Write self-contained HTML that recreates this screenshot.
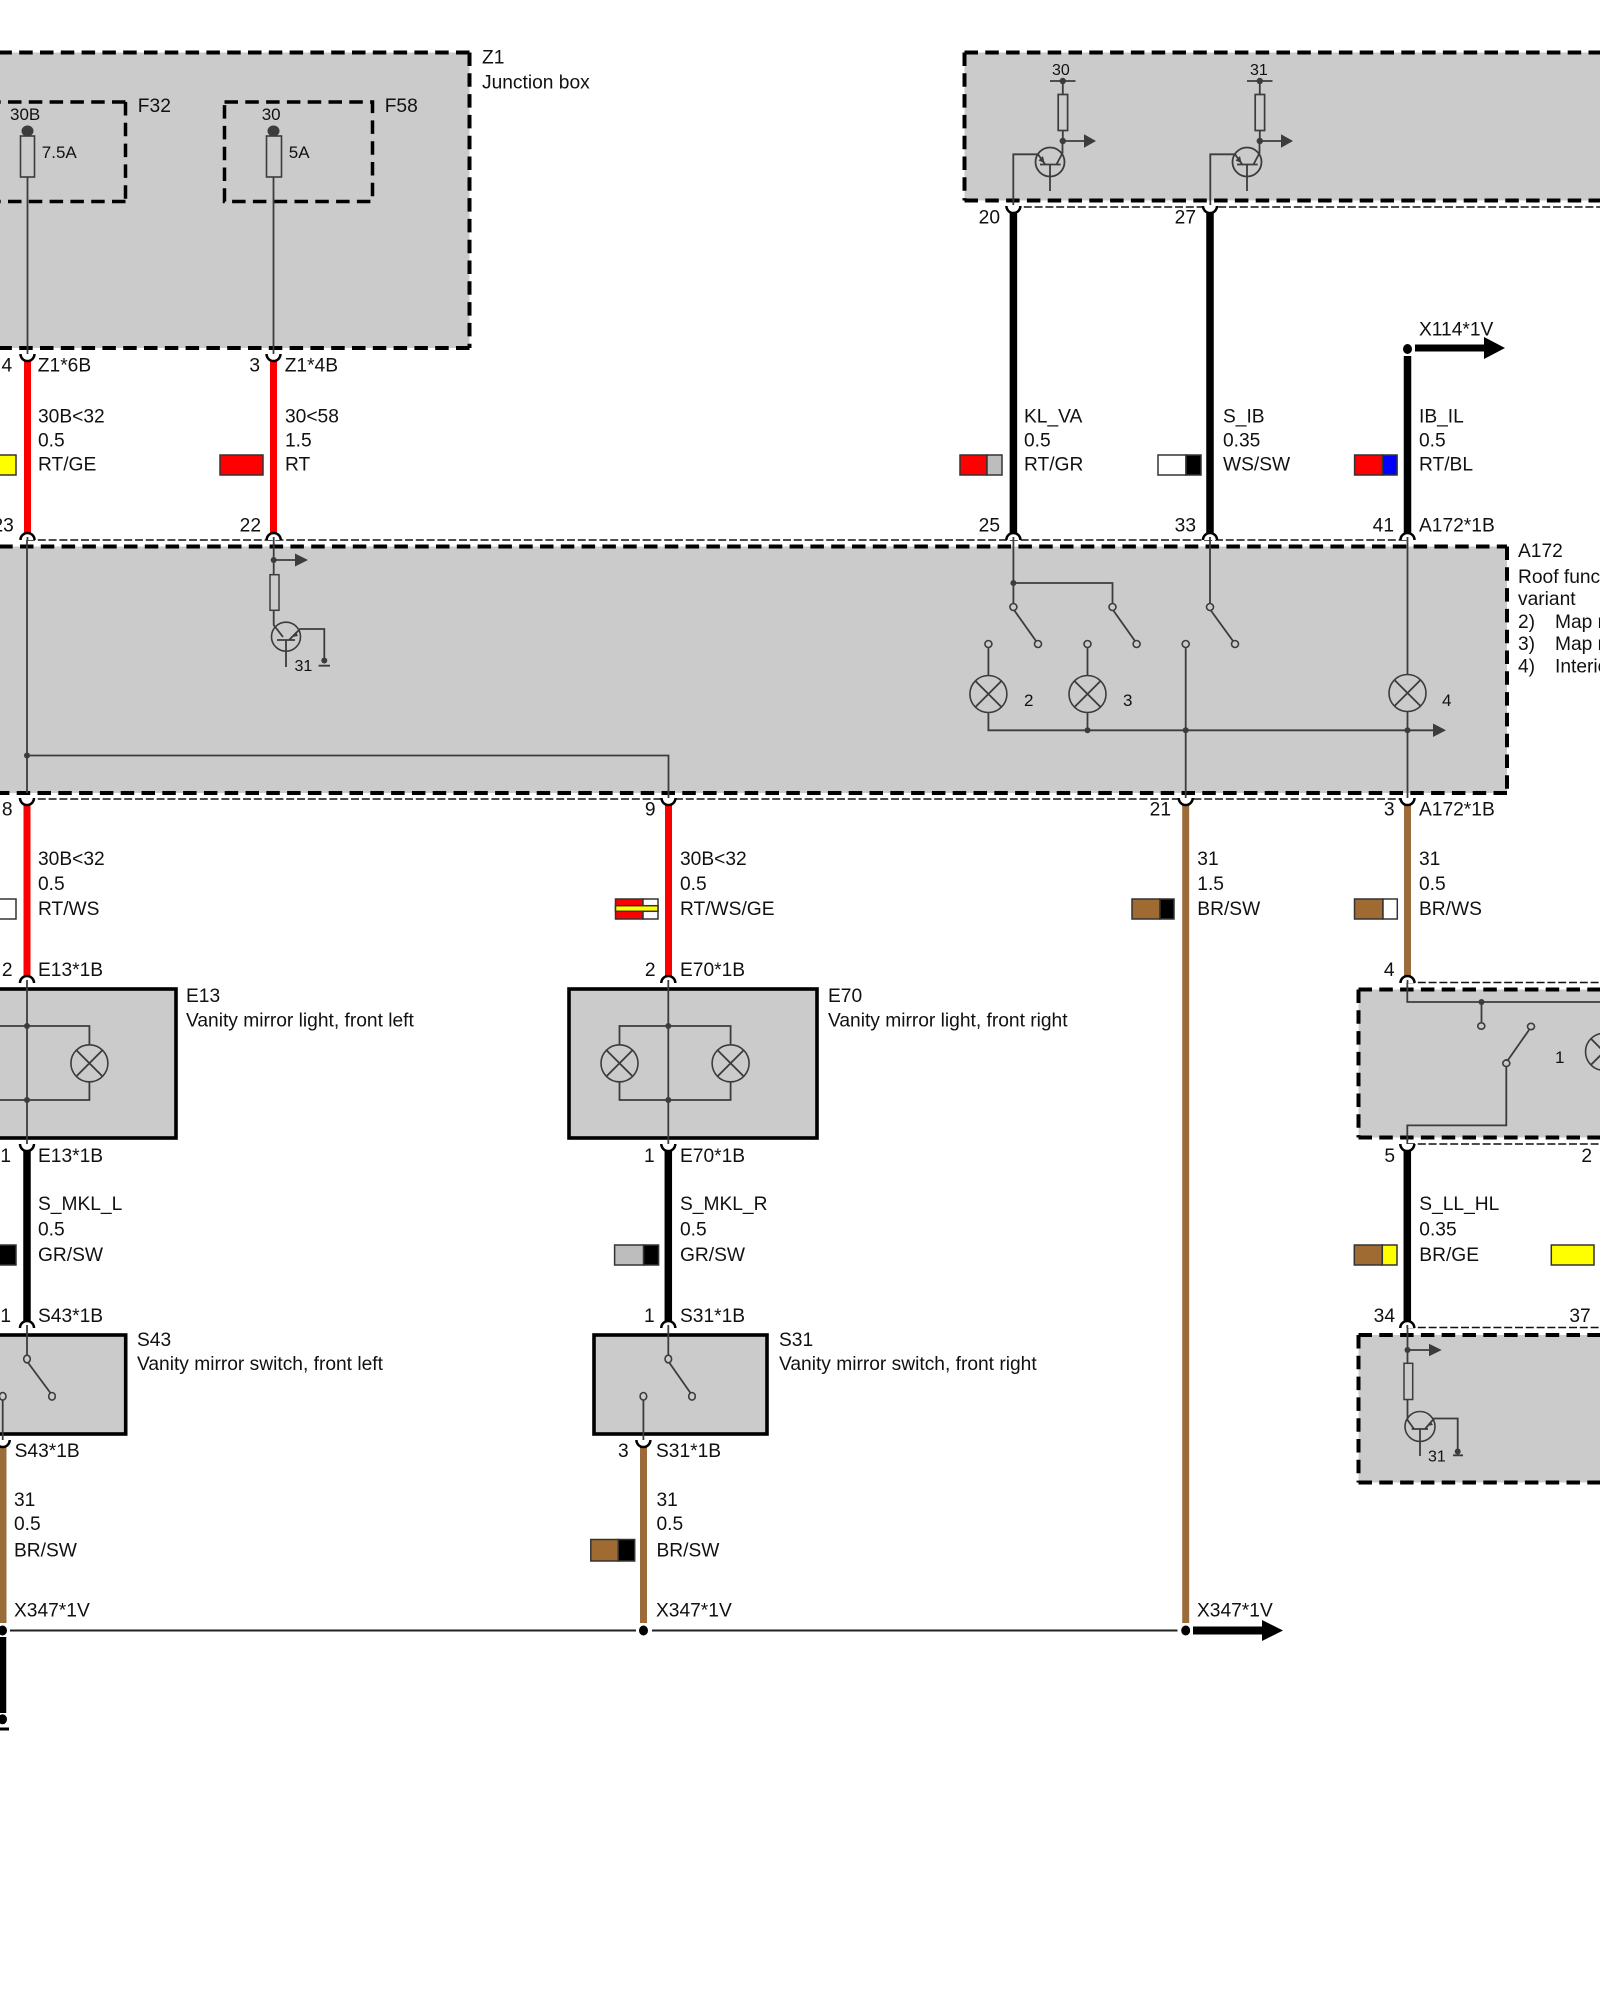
<!DOCTYPE html>
<html><head><meta charset="utf-8"><style>
html,body{margin:0;padding:0;background:#fff;width:1600px;height:2000px;overflow:hidden}
svg{display:block}
text{font-family:"Liberation Sans",sans-serif;font-size:19.2px;fill:#111}
.s{font-size:17px}.xs{font-size:16px}
.g{fill:#cbcbcb}
.box{fill:none;stroke:#000;stroke-width:4;stroke-dasharray:13.5 7.3}
.fb{fill:none;stroke:#000;stroke-width:3.5;stroke-dasharray:13.5 7.3}
.sb{fill:#cbcbcb;stroke:#000;stroke-width:3.6}
.td{fill:none;stroke:#111;stroke-width:1.6;stroke-dasharray:8 2.8}
.l{fill:none;stroke:#3c3c3c;stroke-width:1.8}
.sw{stroke:#333;stroke-width:1.5}
.c{fill:#cbcbcb;stroke:#3c3c3c;stroke-width:1.6}
</style></head><body>
<svg width="1600" height="2000" viewBox="0 0 1600 2000" xmlns="http://www.w3.org/2000/svg">
<defs>
<g id="cd"><path d="M-7 0A7 7 0 0 0 7 0Z" fill="#fff"/><path d="M-7 0A7 7 0 0 0 7 0" fill="none" stroke="#000" stroke-width="2.5"/></g>
<g id="cu"><path d="M-7 0A7 7 0 0 1 7 0Z" fill="#fff"/><path d="M-7 0A7 7 0 0 1 7 0" fill="none" stroke="#000" stroke-width="2.5"/><path d="M0 -3V0" stroke="#3c3c3c" stroke-width="1.8"/></g>
<g id="lamp"><circle r="18.5" class="c"/><path d="M-13 -13L13 13M-13 13L13 -13" class="l"/></g>
<g id="tr1">
<circle cx="1050" cy="162" r="14.5" fill="none" stroke="#3c3c3c" stroke-width="1.8"/>
<path d="M1062.5 141V153L1056.7 164M1040 164.5H1060.7M1050 164.5V191M1013.3 205V154.3H1038L1045 164" class="l"/>
<path d="M1044.5 163L1038.5 160.5L1043 156Z" fill="#3c3c3c"/>
<rect x="1058.2" y="94.5" width="9.4" height="36" fill="#cbcbcb" stroke="#3c3c3c" stroke-width="1.7"/>
<path d="M1062.8 81V94.5M1062.8 130.5V141M1050 81H1075.5M1062.8 141H1084.5" class="l"/>
<circle cx="1062.8" cy="81" r="3.2" fill="#3c3c3c"/><circle cx="1062.8" cy="141" r="3.2" fill="#3c3c3c"/>
<path d="M1084 134.3L1096 141L1084 147.7Z" fill="#3c3c3c"/>
</g>
</defs>

<!-- boxes -->
<rect x="0" y="52.5" width="469.5" height="295.5" class="g"/>
<path d="M469.5 52.5H-10M469.5 52.5V348M469.5 348H-10" class="box"/>
<path d="M125.5 102H-10M125.5 102V201.5M125.5 201.5H-10" class="fb"/>
<path d="M224.5 102H372.5V201.5H224.5Z" class="fb"/>
<rect x="964.5" y="52.5" width="640" height="148" class="g"/>
<path d="M964.5 52.5H1610M964.5 52.5V200.5M964.5 200.5H1610" class="box"/>
<rect x="0" y="546.5" width="1507" height="246.5" class="g"/>
<path d="M-21.6 546.5H1507M1507 546.5V793M1507 793H-10" class="box"/>
<rect x="1358.5" y="989.5" width="250" height="148" class="g"/>
<path d="M1358.5 989.5H1610M1358.5 989.5V1137.5M1358.5 1137.5H1610" class="box"/>
<rect x="1358.5" y="1335" width="250" height="147.5" class="g"/>
<path d="M1358.5 1335H1610M1358.5 1335V1482.5M1358.5 1482.5H1610" class="box"/>
<rect x="-20" y="989" width="196" height="149" class="sb"/>
<rect x="569" y="989" width="248" height="149" class="sb"/>
<rect x="-20" y="1335" width="145.7" height="99" class="sb"/>
<rect x="594" y="1335" width="173" height="99" class="sb"/>

<!-- thin dashed lines -->
<path d="M27 540H1407M27 799H1407M1013 207H1600M1407 982.5H1600M1407 1144H1600M1407 1327.5H1600" class="td"/>

<!-- Z1 internals -->
<path d="M27.5 131V354M273.5 131V354" class="l"/>
<rect x="20.5" y="136" width="14" height="41" fill="#cbcbcb" stroke="#3c3c3c" stroke-width="1.6"/>
<rect x="266.5" y="136" width="15" height="41" fill="#cbcbcb" stroke="#3c3c3c" stroke-width="1.6"/>
<ellipse cx="27.5" cy="131" rx="6" ry="5.5" fill="#3c3c3c"/><ellipse cx="273.5" cy="131" rx="6" ry="5.5" fill="#3c3c3c"/>

<!-- top-right transistors -->
<use href="#tr1"/>
<use href="#tr1" x="197"/>

<!-- A172 internals -->
<path d="M27 540V793M27 755.5H668.5V799" class="l"/>
<path d="M273.7 540V574.7M273.7 610V625L283 637M273.7 560H296" class="l"/>
<circle cx="273.7" cy="560" r="3" fill="#3c3c3c"/><path d="M295 553.5L308 560L295 566.5Z" fill="#3c3c3c"/>
<rect x="270" y="574.7" width="9" height="35.6" fill="#cbcbcb" stroke="#3c3c3c" stroke-width="1.5"/>
<circle cx="286" cy="636.7" r="14.5" fill="none" stroke="#3c3c3c" stroke-width="1.6"/>
<path d="M277 640H295M286 640V667M289 640L300 629H324.3V661M318.6 665.7H330" class="l"/>
<path d="M296 632L292 637L298 636Z" fill="#3c3c3c"/>
<circle cx="324.3" cy="660.5" r="3" fill="#3c3c3c"/>

<path d="M1013.4 540V603M1013.4 583H1112.5V603M1014 610L1036 641M1113 610L1135 641" class="l"/>
<path d="M1210 540V603M1210.5 610L1233 641" class="l"/>
<path d="M988.4 648V675.5M988.4 712.5V730.3H1434M1087.5 648V675.5M1087.5 712.5V730.3M1185.7 648V799M1407.5 540V674.5M1407.5 711.5V799" class="l"/>
<path d="M1433 723.5L1446 730.3L1433 737Z" fill="#3c3c3c"/>
<g fill="#3c3c3c"><circle cx="1013.4" cy="583" r="3"/><circle cx="1087.5" cy="730.3" r="3"/><circle cx="1185.7" cy="730.3" r="3"/><circle cx="1407.5" cy="730.3" r="3"/><circle cx="27" cy="755.5" r="3"/></g>
<g class="c">
<ellipse cx="1013.4" cy="607" rx="3.5" ry="3.5"/><ellipse cx="1112.5" cy="607" rx="3.5" ry="3.5"/><ellipse cx="1210" cy="607" rx="3.5" ry="3.5"/>
<ellipse cx="1038" cy="644" rx="3.5" ry="3.5"/><ellipse cx="1136.6" cy="644" rx="3.5" ry="3.5"/><ellipse cx="1235" cy="644" rx="3.5" ry="3.5"/>
<ellipse cx="988.4" cy="644" rx="3.5" ry="3.5"/><ellipse cx="1087.5" cy="644" rx="3.5" ry="3.5"/><ellipse cx="1185.7" cy="644" rx="3.5" ry="3.5"/>
</g>
<use href="#lamp" x="988.4" y="694"/><use href="#lamp" x="1087.5" y="694"/><use href="#lamp" x="1407.5" y="693"/>

<!-- E13 / E70 internals -->
<path d="M27 983V1144M0 1026H89.4V1045M89.4 1082V1100H0" class="l"/>
<path d="M668.3 983V1144M619.5 1045V1026H730.6V1045M619.5 1082V1100H730.6V1082" class="l"/>
<use href="#lamp" x="89.4" y="1063.3"/><use href="#lamp" x="619.5" y="1063.3"/><use href="#lamp" x="730.6" y="1063.3"/>
<g fill="#3c3c3c"><circle cx="27" cy="1026" r="3"/><circle cx="27" cy="1100" r="3"/><circle cx="668.3" cy="1026" r="3"/><circle cx="668.3" cy="1100" r="3"/></g>

<!-- S43 / S31 internals -->
<path d="M27 1328V1355M27.5 1362L50.5 1393M2.7 1400V1440" class="l"/>
<path d="M668.3 1328V1355M668.8 1362L690.5 1393M643.4 1400V1440" class="l"/>
<g class="c"><ellipse cx="27" cy="1359" rx="3.3" ry="3.8"/><ellipse cx="52" cy="1396.3" rx="3.3" ry="3.8"/><ellipse cx="2.7" cy="1396.3" rx="3.3" ry="3.8"/>
<ellipse cx="668.3" cy="1359" rx="3.3" ry="3.8"/><ellipse cx="692" cy="1396.3" rx="3.3" ry="3.8"/><ellipse cx="643.4" cy="1396.3" rx="3.3" ry="3.8"/></g>

<!-- right boxes internals -->
<path d="M1407.3 983V1002H1604V1033M1481.5 1002V1022M1506.3 1059V1125.4H1407.3V1144M1508 1060L1529 1030" class="l"/>
<circle cx="1481.5" cy="1002" r="3" fill="#3c3c3c"/>
<g class="c"><ellipse cx="1481.3" cy="1026" rx="3.5" ry="3.2"/><ellipse cx="1506.3" cy="1063.3" rx="3.5" ry="3.2"/><ellipse cx="1531" cy="1026.5" rx="3.5" ry="3.2"/></g>
<use href="#lamp" x="1604" y="1051.8"/>

<path d="M1407.5 1328V1363M1407.5 1399.5V1420L1414 1429M1407.5 1350H1430" class="l"/>
<circle cx="1407.5" cy="1350" r="3" fill="#3c3c3c"/><path d="M1429 1343.7L1441.7 1350L1429 1356.3Z" fill="#3c3c3c"/>
<rect x="1404" y="1363.3" width="8.7" height="36.2" fill="#cbcbcb" stroke="#3c3c3c" stroke-width="1.5"/>
<circle cx="1420" cy="1426.5" r="15" fill="none" stroke="#3c3c3c" stroke-width="1.6"/>
<path d="M1411.7 1429H1428M1420 1429V1456M1425 1429L1434 1418.5H1457.7V1451M1453 1455.3H1463" class="l"/>
<path d="M1431 1422L1427 1426L1433 1425Z" fill="#3c3c3c"/>
<circle cx="1457.7" cy="1451.5" r="3" fill="#3c3c3c"/>

<!-- thick wires -->
<g stroke-width="7" fill="none">
<path d="M27.5 357V536M273.5 357V536M27 801V978M668.5 801V978" stroke="#fa0000"/>
<path d="M1185.7 801V1623M1407.5 801V978M3 1443V1623M643.5 1443V1623" stroke="#9c6b3a"/>
</g>
<g stroke-width="7.5" fill="none" stroke="#000">
<path d="M1013.4 209V536M1210 209V536M1407.5 356V536M27 1147V1323M668.3 1147V1323M1407.3 1147V1323M2.5 1637V1713"/>
</g>

<!-- connector cups -->
<use href="#cd" x="27.5" y="354"/><use href="#cd" x="273.5" y="354"/>
<use href="#cd" x="1013.4" y="206"/><use href="#cd" x="1210" y="206"/>
<use href="#cu" x="27.5" y="540"/><use href="#cu" x="273.7" y="540"/><use href="#cu" x="1013.4" y="540"/><use href="#cu" x="1210" y="540"/><use href="#cu" x="1407.5" y="540"/>
<use href="#cd" x="27" y="798"/><use href="#cd" x="668.5" y="798"/><use href="#cd" x="1185.7" y="798"/><use href="#cd" x="1407.5" y="798"/>
<use href="#cu" x="27" y="983"/><use href="#cu" x="668.3" y="983"/><use href="#cu" x="1407.5" y="983"/>
<use href="#cd" x="27" y="1144"/><use href="#cd" x="668.3" y="1144"/><use href="#cd" x="1407.3" y="1144"/>
<use href="#cu" x="27" y="1328"/><use href="#cu" x="668.3" y="1328"/><use href="#cu" x="1407.3" y="1328"/>
<use href="#cd" x="2.7" y="1440"/><use href="#cd" x="643.4" y="1440"/>

<!-- bottom bus and arrows -->
<path d="M10 1630.5H636M652 1630.5H1177.5" stroke="#222" stroke-width="2" fill="none"/>
<path d="M1193 1630.5H1264" stroke="#000" stroke-width="8"/><path d="M1262 1620L1283 1630.5L1262 1641Z" fill="#000"/>
<path d="M1415 348H1486" stroke="#000" stroke-width="7"/><path d="M1484 337L1505 348L1484 359Z" fill="#000"/>
<g fill="#000"><ellipse cx="1407.5" cy="349" rx="4.5" ry="5"/><ellipse cx="2.5" cy="1630.5" rx="4.5" ry="5"/><ellipse cx="643.5" cy="1630.5" rx="4.5" ry="5"/><ellipse cx="1185.7" cy="1630.5" rx="4.5" ry="5"/><ellipse cx="2.5" cy="1719.3" rx="4.5" ry="5"/></g>
<rect x="0" y="1727.5" width="9" height="3" fill="#000"/>

<!-- swatches -->
<rect x="-3" y="455" width="19" height="20" fill="#ffff00" class="sw"/>
<rect x="220" y="455" width="43" height="20" fill="#ff0000" class="sw"/>
<g class="sw">
<rect x="960" y="455" width="27" height="20" fill="#ff0000"/><rect x="987" y="455" width="15" height="20" fill="#bdbdbd"/>
<rect x="1158" y="455" width="28" height="20" fill="#fff"/><rect x="1186" y="455" width="15" height="20" fill="#000"/>
<rect x="1354.6" y="455" width="28" height="20" fill="#ff0000"/><rect x="1382.6" y="455" width="14.5" height="20" fill="#0000ff"/>
<rect x="-3" y="899" width="19" height="20" fill="#fff"/>
<rect x="615.5" y="899" width="27.5" height="20" fill="#ff0000"/><rect x="643" y="899" width="15" height="20" fill="#fff"/>
<rect x="615.5" y="905.7" width="42.5" height="5.6" fill="#ffff00"/>
<rect x="1132" y="899" width="28" height="20" fill="#a06a33"/><rect x="1160" y="899" width="14" height="20" fill="#000"/>
<rect x="1354.5" y="899" width="28.5" height="20" fill="#a06a33"/><rect x="1383" y="899" width="14.3" height="20" fill="#fff"/>
<rect x="-3" y="1245" width="19" height="20" fill="#000"/>
<rect x="614.6" y="1245" width="29" height="20" fill="#bdbdbd"/><rect x="643.6" y="1245" width="15" height="20" fill="#000"/>
<rect x="1354.3" y="1245" width="28" height="20" fill="#a06a33"/><rect x="1382.3" y="1245" width="14.7" height="20" fill="#ffff00"/>
<rect x="1551.3" y="1245" width="42.7" height="20" fill="#ffff00"/>
<rect x="590.8" y="1539.5" width="27.5" height="21.5" fill="#a06a33"/><rect x="618.3" y="1539.5" width="16.4" height="21.5" fill="#000"/>
</g>

<!-- labels -->
<text x="482" y="63.5">Z1</text><text x="482" y="88.5">Junction box</text>
<text x="137.8" y="112">F32</text><text x="384.7" y="112">F58</text>
<text class="s" x="10" y="120">30B</text><text class="s" x="261.7" y="120">30</text>
<text class="s" x="41.8" y="158">7.5A</text><text class="s" x="288.8" y="158">5A</text>
<text class="xs" x="1052" y="75">30</text><text class="xs" x="1250" y="75">31</text>
<text x="12.2" y="371.5" text-anchor="end">4</text><text x="37.8" y="371.5">Z1*6B</text>
<text x="260" y="371.5" text-anchor="end">3</text><text x="284.7" y="371.5">Z1*4B</text>
<text x="38" y="422.5">30B&lt;32</text><text x="38" y="446.5">0.5</text><text x="38" y="470.5">RT/GE</text>
<text x="285" y="422.5">30&lt;58</text><text x="285" y="446.5">1.5</text><text x="285" y="470.5">RT</text>
<text x="13.8" y="531.5" text-anchor="end">23</text><text x="261" y="531.5" text-anchor="end">22</text>
<text x="1000" y="223.5" text-anchor="end">20</text><text x="1196" y="223.5" text-anchor="end">27</text>
<text x="1419" y="335.5">X114*1V</text>
<text x="1024" y="422.5">KL_VA</text><text x="1024" y="446.5">0.5</text><text x="1024" y="470.5">RT/GR</text>
<text x="1223" y="422.5">S_IB</text><text x="1223" y="446.5">0.35</text><text x="1223" y="470.5">WS/SW</text>
<text x="1419" y="422.5">IB_IL</text><text x="1419" y="446.5">0.5</text><text x="1419" y="470.5">RT/BL</text>
<text x="1000" y="531.5" text-anchor="end">25</text><text x="1196" y="531.5" text-anchor="end">33</text><text x="1394" y="531.5" text-anchor="end">41</text><text x="1419" y="531.5">A172*1B</text>
<text x="1518" y="557">A172</text><text x="1518" y="583">Roof function center,</text><text x="1518" y="605">variant</text>
<text x="1518" y="628">2)</text><text x="1555" y="628">Map reading light</text>
<text x="1518" y="650">3)</text><text x="1555" y="650">Map reading light</text>
<text x="1518" y="672.5">4)</text><text x="1555" y="672.5">Interior light</text>
<text class="xs" x="294.5" y="671">31</text>
<text class="s" x="1024" y="706">2</text><text class="s" x="1123" y="706">3</text><text class="s" x="1442" y="706">4</text>
<text x="12.6" y="815.5" text-anchor="end">8</text><text x="655.6" y="815.5" text-anchor="end">9</text><text x="1171" y="815.5" text-anchor="end">21</text><text x="1394.6" y="815.5" text-anchor="end">3</text><text x="1419" y="815.5">A172*1B</text>
<text x="38" y="865">30B&lt;32</text><text x="38" y="890">0.5</text><text x="38" y="915">RT/WS</text>
<text x="680" y="865">30B&lt;32</text><text x="680" y="890">0.5</text><text x="680" y="915">RT/WS/GE</text>
<text x="1197.3" y="865">31</text><text x="1197.3" y="890">1.5</text><text x="1197.3" y="915">BR/SW</text>
<text x="1419" y="865">31</text><text x="1419" y="890">0.5</text><text x="1419" y="915">BR/WS</text>
<text x="12.6" y="976" text-anchor="end">2</text><text x="38" y="976">E13*1B</text>
<text x="655.6" y="976" text-anchor="end">2</text><text x="680" y="976">E70*1B</text>
<text x="1394.6" y="976" text-anchor="end">4</text>
<text x="186" y="1002">E13</text><text x="186" y="1026.5">Vanity mirror light, front left</text>
<text x="828" y="1002">E70</text><text x="828" y="1026.5">Vanity mirror light, front right</text>
<text class="s" x="1555" y="1063">1</text>
<text x="11" y="1162" text-anchor="end">1</text><text x="38" y="1162">E13*1B</text>
<text x="654.7" y="1162" text-anchor="end">1</text><text x="680" y="1162">E70*1B</text>
<text x="1395" y="1162" text-anchor="end">5</text><text x="1592" y="1162" text-anchor="end">2</text>
<text x="38" y="1210">S_MKL_L</text><text x="38" y="1235.5">0.5</text><text x="38" y="1261">GR/SW</text>
<text x="680" y="1210">S_MKL_R</text><text x="680" y="1235.5">0.5</text><text x="680" y="1261">GR/SW</text>
<text x="1419.3" y="1210">S_LL_HL</text><text x="1419.3" y="1235.5">0.35</text><text x="1419.3" y="1261">BR/GE</text>
<text x="11" y="1322" text-anchor="end">1</text><text x="38" y="1322">S43*1B</text>
<text x="654.7" y="1322" text-anchor="end">1</text><text x="680" y="1322">S31*1B</text>
<text x="1395" y="1322" text-anchor="end">34</text><text x="1590.7" y="1322" text-anchor="end">37</text>
<text x="137" y="1346">S43</text><text x="137" y="1370">Vanity mirror switch, front left</text>
<text x="779" y="1346">S31</text><text x="779" y="1370">Vanity mirror switch, front right</text>
<text class="xs" x="1428" y="1461.5">31</text>
<text x="14.6" y="1457">S43*1B</text>
<text x="628.7" y="1457" text-anchor="end">3</text><text x="656" y="1457">S31*1B</text>
<text x="14" y="1506">31</text><text x="14" y="1530">0.5</text><text x="14" y="1556.5">BR/SW</text>
<text x="656.5" y="1506">31</text><text x="656.5" y="1530">0.5</text><text x="656.5" y="1556.5">BR/SW</text>
<text x="14" y="1616.5">X347*1V</text><text x="656" y="1616.5">X347*1V</text><text x="1197" y="1616.5">X347*1V</text>
</svg>
</body></html>
